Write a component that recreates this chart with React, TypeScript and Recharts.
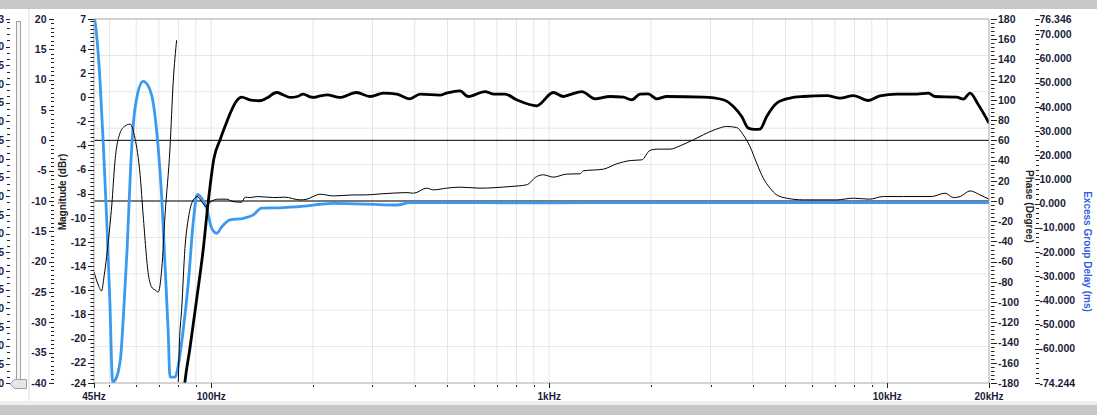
import React from 'react';
import { ComposedChart, Line, XAxis, YAxis, ReferenceLine } from 'recharts';

const CHART_W = 1097;
const CHART_H = 415;
const FONT = '"Liberation Sans", Arial, Helvetica, sans-serif';
const TICK_TEXT = '#1c1c3a';
const TICK_LINE = '#222222';

// ---------------- X axis (frequency, log) ----------------
const X_DOMAIN: [number, number] = [45, 20000];
const X_MAJOR = [45, 100, 1000, 10000, 20000];
const X_MAJOR_LABELS = ['45Hz', '100Hz', '1kHz', '10kHz', '20kHz'];
const X_MINOR = [50, 60, 70, 80, 90, 200, 300, 400, 500, 600, 700, 800, 900, 2000, 3000, 4000, 5000, 6000, 7000, 8000, 9000];
const X_GRID = [50, 60, 70, 80, 90, 100, 200, 300, 400, 500, 600, 700, 800, 900, 1000, 2000, 3000, 4000, 5000, 6000, 7000, 8000, 9000, 10000];

// ---------------- Y axes ----------------
const MAG_DOMAIN: [number, number] = [-23.68, 6.47];
const MAG_MAJOR = [6.47, 4, 2, 0, -2, -4, -6, -8, -10, -12, -14, -16, -18, -20, -22, -23.68];
const MAG_LABELS = ['7', '4', '2', '0', '-2', '-4', '-6', '-8', '-10', '-12', '-14', '-16', '-18', '-20', '-22', '-24'];

const OUT_DOMAIN: [number, number] = [-40, 20];
const OUT_MAJOR = [20, 15, 10, 5, 0, -5, -10, -15, -20, -25, -30, -35, -40];
const OUT_LABELS = ['20', '15', '10', '5', '0', '-5', '-10', '-15', '-20', '-25', '-30', '-35', '-40'];

const AUX_DOMAIN: [number, number] = [-100, -2.6];
const AUX_MAJOR = [-2.6, -10, -15, -20, -25, -30, -35, -40, -45, -50, -55, -60, -65, -70, -75, -80, -85, -90, -95, -100];
const AUX_LABELS = ['-3', '-10', '-15', '-20', '-25', '-30', '-35', '-40', '-45', '-50', '-55', '-60', '-65', '-70', '-75', '-80', '-85', '-90', '-95', '-100'];

const PH_DOMAIN: [number, number] = [-180, 180];
const PH_MAJOR = [180, 160, 140, 120, 100, 80, 60, 40, 20, 0, -20, -40, -60, -80, -100, -120, -140, -160, -180];
const PH_LABELS = ['180', '160', '140', '120', '100', '80', '60', '40', '20', '0', '-20', '-40', '-60', '-80', '-100', '-120', '-140', '-160', '-180'];
const PH_GRID = [144, 108, 72, 36, 0, -36, -72, -108, -144];

const DL_DOMAIN: [number, number] = [-74.244, 76.346];
const DL_MAJOR = [76.346, 70, 60, 50, 40, 30, 20, 10, 0, -10, -20, -30, -40, -50, -60, -74.244];
const DL_LABELS = ['76.346', '70.000', '60.000', '50.000', '40.000', '30.000', '20.000', '10.000', '0.000', '-10.000', '-20.000', '-30.000', '-40.000', '-50.000', '-60.000', '-74.244'];

const REF_LEVELS = [0, -10]; // on the 20..-40 axis

// ---------------- Series ----------------
const magFreq = [82, 83.6, 86.5, 90.6, 94.8, 98.0, 101.9, 106.2, 109.8, 115, 119, 123, 130, 139, 146, 156, 163, 171, 180, 187, 196, 200.5, 210, 220, 240, 269, 295, 323, 354, 387, 415, 475, 497, 544, 576, 646, 683, 740, 801, 918, 1028, 1101, 1152, 1248, 1366, 1513, 1656, 1754, 1856, 1962, 2080, 2227, 2857, 3274, 3505, 3711, 3882, 4050, 4203, 4399, 4711, 5158, 5648, 6623, 7250, 7939, 8793, 9519, 10670, 12222, 13230, 13848, 16057, 16794, 17578, 18604, 20000];
const magDb = [-26, -23.6, -20.8, -16.7, -12.5, -8.66, -5.06, -3.54, -2.44, -1.05, -0.3, 0.0, -0.22, -0.3, -0.08, 0.38, 0.2, -0.03, 0.05, 0.25, 0.02, -0.03, 0.1, 0.19, -0.03, 0.38, 0.05, 0.33, 0.25, -0.14, 0.25, 0.17, 0.33, 0.52, 0.05, 0.46, 0.25, 0.25, -0.22, -0.72, 0.38, 0.05, 0.2, 0.46, -0.14, 0.05, 0.0, -0.22, 0.25, 0.27, -0.14, 0.05, 0.0, -0.22, -0.78, -1.61, -2.57, -2.68, -2.66, -1.61, -0.5, -0.08, 0.05, 0.13, -0.08, 0.13, -0.28, 0.11, 0.25, 0.25, 0.33, 0.05, 0.0, -0.17, 0.33, -0.64, -2.16];

const phaseFreq = [45, 46.2, 47.4, 48.1, 49.6, 50.8, 51.9, 53.7, 55.5, 57.5, 59.5, 61.6, 62.9, 65.2, 66.6, 68.2, 69.7, 71.4, 73, 75.5, 77.2, 79.0, 79.4, 79.9, 80.4, 81.8, 83.6, 85.6, 88.5, 90.9, 93.7, 96.5, 99.2, 105, 111, 116, 123, 126, 130, 137, 153, 165, 183, 192, 200, 210, 230, 263, 285, 316, 379, 397, 434, 454, 497, 544, 624, 765, 857, 918, 961, 1028, 1126, 1233, 1261, 1445, 1585, 1737, 1879, 1985, 2080, 2277, 2439, 2670, 2857, 3128, 3349, 3583, 3748, 3925, 4108, 4298, 4500, 4711, 5037, 5648, 7084, 7939, 8847, 9731, 11172, 13500, 14830, 15700, 16440, 17578, 18822, 20000];
const phaseDeg: (number | null)[] = [-70, -82, -89, -76.5, -40, -4, 39, 67, 74, 76, 62, 26, -14, -73, -85, -88, -90, -67, -14, 52, 118, 159, null, -179, -146, -106, -47, -17, 1, 4.4, -0.6, -5.5, -1.2, 1.8, 1.8, -0.6, -1.2, 3.8, 3.4, 4.4, 3.4, 3.8, 1.1, 1.8, 4.4, 6.7, 5, 6, 6, 7, 8.3, 7.7, 12.7, 11, 12.7, 13.7, 12.7, 14.3, 16, 24.2, 25.9, 23.6, 26.6, 26.9, 29.8, 31.5, 36.8, 40, 40.7, 50, 51.3, 51.3, 54.6, 60.6, 65.5, 71.2, 73.7, 72.7, 65.5, 53.9, 37.5, 22.6, 12.7, 6, 2.8, 1.1, 1.1, 2.8, 1.8, 4.4, 4.4, 4.4, 7.7, 3.4, 4.4, 10, 6, 1.8];

const delayFreq = [45, 45.8, 46.9, 48, 49, 50.1, 51.1, 52, 53.9, 55, 56.4, 57.8, 58.8, 60.2, 62.9, 65.2, 67.5, 69.7, 71.4, 73, 74.6, 75.5, 78.2, 79.9, 82.5, 85.6, 88.5, 91, 93.7, 96.9, 100.3, 103.8, 107.5, 113.7, 124.5, 133.2, 141, 163.4, 192, 210, 230, 354, 387, 1000, 2000, 20000];
const delayMs = [78, 69.9, 50.5, 22.9, -4.7, -39.3, -73.8, -73, -64.1, -46.2, -18.5, 16, 32.6, 43.7, 50.5, 48.5, 40.9, 22.9, 2.2, -25.5, -53.1, -71.8, -71.8, -66.9, -53.1, -32.4, -7.5, 3.8, 2.2, -1.9, -10.2, -12.3, -9.6, -6.8, -6.1, -4.7, -1.9, -1.7, -1, -0.3, 0.1, -0.6, 0.4, 0.3, 0.4, 0.4];

const magData = magFreq.map((f, i) => ({ f, v: magDb[i] }));
const phaseData = phaseFreq.map((f, i) => ({ f, v: phaseDeg[i] }));
const delayData = delayFreq.map((f, i) => ({ f, v: delayMs[i] }));

// ---------------- tick helpers ----------------
function withMinor(major: number[], lo: number, hi: number, base: number, step: number) {
  const out = [...major];
  const k0 = Math.ceil((lo - base) / step - 1e-9);
  const k1 = Math.floor((hi - base) / step + 1e-9);
  for (let k = k0; k <= k1; k++) {
    const v = base + k * step;
    if (!major.some((m) => Math.abs(m - v) < step * 0.4)) out.push(v);
  }
  return out;
}

type TickCfg = {
  majors: number[];
  labels: string[];
  maj: [number, number];
  min: [number, number];
  textDx: number;
  anchor: 'start' | 'end';
};

function makeYTick(cfg: TickCfg) {
  return (props: any) => {
    const { x, y, payload } = props;
    const v = payload.value;
    const idx = cfg.majors.findIndex((m) => Math.abs(m - v) < 1e-6);
    const major = idx >= 0;
    const seg = major ? cfg.maj : cfg.min;
    const yy = Math.round(y) + 0.5;
    return (
      <g>
        <line x1={x + seg[0]} x2={x + seg[1]} y1={yy} y2={yy} stroke={TICK_LINE} strokeWidth={1} />
        {major && (
          <text x={x + cfg.textDx} y={y} dy="0.36em" textAnchor={cfg.anchor} fontFamily={FONT} fontWeight="bold" fontSize={10.5} fill={TICK_TEXT}>
            {cfg.labels[idx]}
          </text>
        )}
      </g>
    );
  };
}

const XTick = (props: any) => {
  const { x, y, payload } = props;
  const v = payload.value;
  const idx = X_MAJOR.findIndex((m) => Math.abs(m - v) < 1e-6);
  const major = idx >= 0;
  const xx = Math.round(x) + 0.5;
  return (
    <g>
      <line x1={xx} x2={xx} y1={y + (major ? 0 : 2)} y2={y + (major ? 5 : 4)} stroke={TICK_LINE} strokeWidth={1} />
      {major && (
        <text x={x} y={y + 16.5} textAnchor="middle" fontFamily={FONT} fontWeight="bold" fontSize={10} fill={TICK_TEXT}>
          {X_MAJOR_LABELS[idx]}
        </text>
      )}
    </g>
  );
};

const magTick = makeYTick({ majors: MAG_MAJOR, labels: MAG_LABELS, maj: [-6, 0], min: [-3.5, 0], textDx: -8, anchor: 'end' });
const outTick = makeYTick({ majors: OUT_MAJOR, labels: OUT_LABELS, maj: [-19, -14], min: [-17, -14], textDx: -21.5, anchor: 'end' });
const auxTick = makeYTick({ majors: AUX_MAJOR, labels: AUX_LABELS, maj: [-22, -18], min: [-21, -18], textDx: -24, anchor: 'end' });
const phTick = makeYTick({ majors: PH_MAJOR, labels: PH_LABELS, maj: [2, 8], min: [2, 5.5], textDx: 9, anchor: 'start' });
const dlTick = makeYTick({ majors: DL_MAJOR, labels: DL_LABELS, maj: [2, 7], min: [3, 6], textDx: 6.5, anchor: 'start' });

const MAG_TICKS = withMinor(MAG_MAJOR, MAG_DOMAIN[0], MAG_DOMAIN[1], 0, 1 / 3);
const OUT_TICKS = withMinor(OUT_MAJOR, OUT_DOMAIN[0], OUT_DOMAIN[1], 0, 5 / 7);
const AUX_TICKS = withMinor(AUX_MAJOR, AUX_DOMAIN[0], AUX_DOMAIN[1], -100, 5 / 3);
const PH_TICKS = withMinor(PH_MAJOR, PH_DOMAIN[0], PH_DOMAIN[1], 0, 4);
const DL_TICKS = withMinor(DL_MAJOR, DL_DOMAIN[0], DL_DOMAIN[1], 0, 2);
const X_TICKS = [...X_MAJOR, ...X_MINOR];

const BORDER = '#a8a8a8';
const GRID = '#e6e6e6';

// axis ids: alphabetical order == inner-to-outer order on each side
const ID_MAG = 'a1mag';
const ID_OUT = 'a2out';
const ID_AUX = 'a3aux';
const ID_PH = 'b1ph';
const ID_DL = 'b2dl';

export default function App() {
  return (
    <div style={{ position: 'absolute', left: 0, top: 0, width: CHART_W, height: CHART_H, background: '#ffffff', overflow: 'hidden' }}>
      <ComposedChart width={CHART_W} height={CHART_H} margin={{ top: 19, right: 0, bottom: 0, left: 0 }}>
        <XAxis
          xAxisId="f"
          dataKey="f"
          type="number"
          scale="log"
          domain={X_DOMAIN}
          allowDataOverflow
          ticks={X_TICKS}
          interval={0}
          tick={XTick}
          tickSize={0}
          tickMargin={0}
          tickLine={false}
          height={32}
          axisLine={{ stroke: BORDER }}
        />
        <YAxis yAxisId={ID_MAG} orientation="left" width={26} type="number" domain={MAG_DOMAIN} allowDataOverflow ticks={MAG_TICKS} interval={0} tick={magTick} tickSize={0} tickMargin={0} tickLine={false} axisLine={{ stroke: BORDER }} />
        <YAxis yAxisId={ID_OUT} orientation="left" width={40} type="number" domain={OUT_DOMAIN} allowDataOverflow ticks={OUT_TICKS} interval={0} tick={outTick} tickSize={0} tickMargin={0} tickLine={false} axisLine={false} />
        <YAxis yAxisId={ID_AUX} orientation="left" width={28} type="number" domain={AUX_DOMAIN} allowDataOverflow ticks={AUX_TICKS} interval={0} tick={auxTick} tickSize={0} tickMargin={0} tickLine={false} axisLine={false} />
        <YAxis yAxisId={ID_PH} orientation="right" width={44} type="number" domain={PH_DOMAIN} allowDataOverflow ticks={PH_TICKS} interval={0} tick={phTick} tickSize={0} tickMargin={0} tickLine={false} axisLine={{ stroke: BORDER }} />
        <YAxis yAxisId={ID_DL} orientation="right" width={64} type="number" domain={DL_DOMAIN} allowDataOverflow ticks={DL_TICKS} interval={0} tick={dlTick} tickSize={0} tickMargin={0} tickLine={false} axisLine={false} />

        {X_GRID.map((f) => (
          <ReferenceLine key={'gx' + f} xAxisId="f" yAxisId={ID_PH} x={f} stroke={GRID} strokeWidth={1} ifOverflow="visible" />
        ))}
        {PH_GRID.map((p) => (
          <ReferenceLine key={'gy' + p} xAxisId="f" yAxisId={ID_PH} y={p} stroke={GRID} strokeWidth={1} ifOverflow="visible" />
        ))}
        <ReferenceLine xAxisId="f" yAxisId={ID_PH} y={180} stroke={BORDER} strokeWidth={1} ifOverflow="visible" />
        {REF_LEVELS.map((r) => (
          <ReferenceLine key={'ref' + r} xAxisId="f" yAxisId={ID_OUT} y={r} stroke="#000000" strokeWidth={1} ifOverflow="visible" />
        ))}

        <Line xAxisId="f" yAxisId={ID_DL} data={delayData} dataKey="v" type="monotoneX" stroke="#3a9af0" strokeWidth={2.8} dot={false} isAnimationActive={false} />
        <Line xAxisId="f" yAxisId={ID_PH} data={phaseData} dataKey="v" type="monotoneX" stroke="#000000" strokeWidth={1} dot={false} connectNulls={false} isAnimationActive={false} />
        <Line xAxisId="f" yAxisId={ID_MAG} data={magData} dataKey="v" type="monotoneX" stroke="#000000" strokeWidth={2.8} dot={false} isAnimationActive={false} />
      </ComposedChart>

      <svg width={CHART_W} height={CHART_H} style={{ position: 'absolute', left: 0, top: 0, pointerEvents: 'none' }}>
        <rect x={0} y={0} width={CHART_W} height={9} fill="#c8c8c8" />
        <rect x={0} y={401} width={CHART_W} height={4} fill="#f0f0f0" />
        <rect x={0} y={405} width={CHART_W} height={10} fill="#c8c8c8" />
        <rect x={28} y={9} width={2} height={392} fill="#eeeeee" />
        <rect x={16.5} y={21.5} width={4} height={358} fill="#f4f4f4" stroke="#a0a0a0" strokeWidth={1} />
        <polygon points="10,384 14.5,379.5 26.5,379.5 26.5,388.5 14.5,388.5" fill="#e4e6ea" stroke="#9aa0a6" strokeWidth={1} />
        <text transform="translate(62.5,192) rotate(-90)" textAnchor="middle" dy="0.35em" fontFamily={FONT} fontWeight="bold" fontSize={10} fill="#222222">
          Magnitude (dBr)
        </text>
        <text transform="translate(1029,206.5) rotate(90)" textAnchor="middle" dy="0.35em" fontFamily={FONT} fontWeight="bold" fontSize={10} fill="#222222">
          Phase (Degree)
        </text>
        <text transform="translate(1087.5,251.5) rotate(90)" textAnchor="middle" dy="0.35em" fontFamily={FONT} fontWeight="bold" fontSize={10} fill="#2f5fe0">
          Excess Group Delay (ms)
        </text>
      </svg>
    </div>
  );
}
